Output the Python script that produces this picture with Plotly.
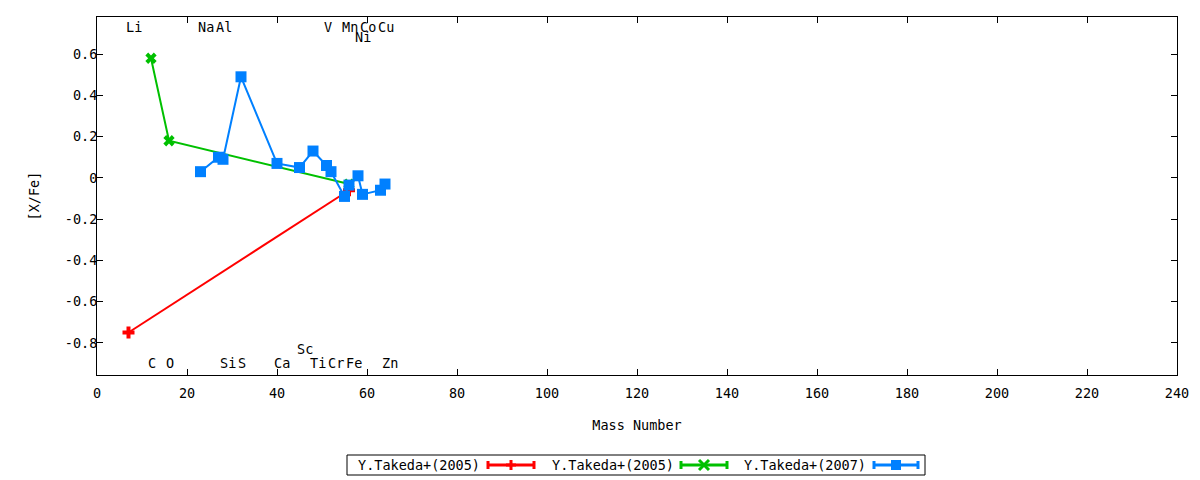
import plotly.graph_objects as go

# ---------------- data ----------------
red_mass = [7, 56]
red_val = [-0.75, -0.06]

green_mass = [12, 16, 56]
green_val = [0.58, 0.18, -0.03]

blue_mass = [23, 27, 28, 32, 40, 45, 48, 51, 52, 55, 56, 58, 59, 63, 64]
blue_val = [0.03, 0.10, 0.09, 0.49, 0.07, 0.05, 0.13, 0.06, 0.03, -0.09, -0.035, 0.01, -0.08, -0.06, -0.03]

elem_names = ["Li", "Na", "Al", "V", "Mn", "Co", "Cu", "Ni",
              "C", "O", "Si", "S", "Ca", "Sc", "Ti", "Cr", "Fe", "Zn"]
elem_mass = [7, 23, 27, 51, 55, 59, 63, 58,
             12, 16, 28, 32, 40, 45, 48, 52, 56, 64]
elem_y = [0.732, 0.732, 0.732, 0.732, 0.732, 0.732, 0.732, 0.684,
          -0.898, -0.898, -0.898, -0.898, -0.898, -0.83, -0.898, -0.898, -0.898, -0.898]

legend_names = ["Y.Takeda+(2005)", "Y.Takeda+(2005)", "Y.Takeda+(2007)"]

x_ticks = [0, 20, 40, 60, 80, 100, 120, 140, 160, 180, 200, 220, 240]
y_ticks = [0.6, 0.4, 0.2, 0, -0.2, -0.4, -0.6, -0.8]
y_ticktext = ["0.6", "0.4", "0.2", "0", "-0.2", "-0.4", "-0.6", "-0.8"]

RED = "#ff0000"
GREEN = "#00c000"
BLUE = "#0080ff"
FONT = "DejaVu Sans Mono"
FS = 13.5

W, H = 1200, 480
L, R, T, B = 97, 23, 17, 105
PW, PH = W - L - R, H - T - B


def px(xp):
    return (xp - L) / PW


def py(yp):
    return (H - B - yp) / PH


fig = go.Figure()
fig.add_trace(go.Scatter(x=red_mass, y=red_val, mode="lines+markers",
                         line=dict(color=RED, width=2),
                         marker=dict(symbol="cross", size=10, color=RED),
                         name=legend_names[0], showlegend=False))
fig.add_trace(go.Scatter(x=green_mass, y=green_val, mode="lines+markers",
                         line=dict(color=GREEN, width=2),
                         marker=dict(symbol="x", size=10, color=GREEN),
                         name=legend_names[1], showlegend=False))
fig.add_trace(go.Scatter(x=blue_mass, y=blue_val, mode="lines+markers",
                         line=dict(color=BLUE, width=2),
                         marker=dict(symbol="square", size=11, color=BLUE),
                         name=legend_names[2], showlegend=False))

annotations = []
for n, m, yv in zip(elem_names, elem_mass, elem_y):
    annotations.append(dict(x=m, y=yv, xref="x", yref="y", text=n, showarrow=False,
                            xanchor="left", yanchor="middle", xshift=-5,
                            font=dict(family=FONT, size=FS, color="black")))

shapes = []
# legend box
shapes.append(dict(type="rect", xref="paper", yref="paper",
                   x0=px(347), x1=px(925), y0=py(475), y1=py(455),
                   line=dict(color="black", width=1), fillcolor="white", layer="below"))
leg = [  # text right edge, sample start, sample end, colour, marker
    (482, 488, 534, RED, "plus"),
    (676, 681, 727, GREEN, "x"),
    (868, 874, 918, BLUE, "square"),
]
yc = 465
for i, (tr, s0, s1, col, mk) in enumerate(leg):
    annotations.append(dict(x=px(tr), y=py(yc), xref="paper", yref="paper",
                            text=legend_names[i], showarrow=False, xanchor="right",
                            yanchor="middle",
                            font=dict(family=FONT, size=FS, color="black")))
    shapes.append(dict(type="line", xref="paper", yref="paper", x0=px(s0), x1=px(s1),
                       y0=py(yc), y1=py(yc), line=dict(color=col, width=3)))
    for e in (s0, s1):
        shapes.append(dict(type="line", xref="paper", yref="paper", x0=px(e), x1=px(e),
                           y0=py(yc - 4), y1=py(yc + 4), line=dict(color=col, width=3)))
    cx = (s0 + s1) / 2
    if mk == "plus":
        shapes.append(dict(type="line", xref="paper", yref="paper", x0=px(cx), x1=px(cx),
                           y0=py(yc - 5), y1=py(yc + 5), line=dict(color=col, width=3)))
        shapes.append(dict(type="line", xref="paper", yref="paper", x0=px(cx - 5), x1=px(cx + 5),
                           y0=py(yc), y1=py(yc), line=dict(color=col, width=3)))
    elif mk == "x":
        shapes.append(dict(type="line", xref="paper", yref="paper", x0=px(cx - 5), x1=px(cx + 5),
                           y0=py(yc - 5), y1=py(yc + 5), line=dict(color=col, width=3)))
        shapes.append(dict(type="line", xref="paper", yref="paper", x0=px(cx - 5), x1=px(cx + 5),
                           y0=py(yc + 5), y1=py(yc - 5), line=dict(color=col, width=3)))
    else:
        shapes.append(dict(type="rect", xref="paper", yref="paper", x0=px(cx - 5), x1=px(cx + 5),
                           y0=py(yc + 5), y1=py(yc - 5), line=dict(color=col, width=0),
                           fillcolor=col))

fig.update_layout(
    width=W, height=H,
    margin=dict(l=L, r=R, t=T, b=B),
    paper_bgcolor="white", plot_bgcolor="white",
    font=dict(family=FONT, size=FS, color="black"),
    annotations=annotations,
    shapes=shapes,
    xaxis=dict(range=[0, 240], tickvals=x_ticks, ticks="inside", ticklen=6,
               tickcolor="black", showline=True, linecolor="black", linewidth=1,
               mirror="ticks", showgrid=False, zeroline=False,
               ticklabelstandoff=6,
               title=dict(text="Mass Number", standoff=20, font=dict(family=FONT, size=FS)),
               tickfont=dict(family=FONT, size=FS)),
    yaxis=dict(range=[-0.956, 0.78], tickvals=y_ticks, ticktext=y_ticktext,
               ticks="inside", ticklen=6, tickcolor="black", showline=True,
               linecolor="black", linewidth=1, mirror="ticks", showgrid=False,
               zeroline=False, ticklabelstandoff=-4,
               title=dict(text="[X/Fe]", standoff=22, font=dict(family=FONT, size=FS)),
               tickfont=dict(family=FONT, size=FS)),
)

fig.write_html("out.html", config={"displayModeBar": False},
               post_script="document.body.style.margin='0';")
